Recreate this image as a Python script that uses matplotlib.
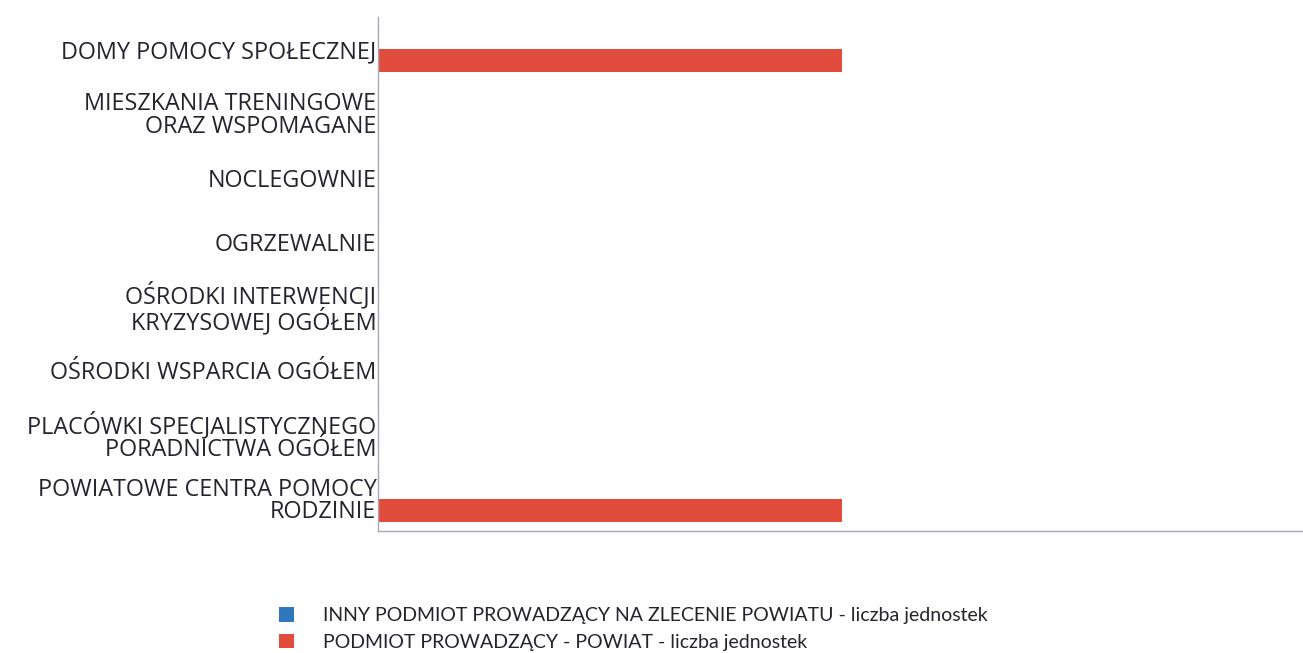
import matplotlib
matplotlib.use("Agg")
import matplotlib.pyplot as plt
import numpy as np
from matplotlib.patches import Patch

categories = [
    "DOMY POMOCY SPOŁECZNEJ",
    "MIESZKANIA TRENINGOWE\nORAZ WSPOMAGANE",
    "NOCLEGOWNIE",
    "OGRZEWALNIE",
    "OŚRODKI INTERWENCJI\nKRYZYSOWEJ OGÓŁEM",
    "OŚRODKI WSPARCIA OGÓŁEM",
    "PLACÓWKI SPECJALISTYCZNEGO\nPORADNICTWA OGÓŁEM",
    "POWIATOWE CENTRA POMOCY\nRODZINIE",
]
series_names = [
    "INNY PODMIOT PROWADZĄCY NA ZLECENIE POWIATU - liczba jednostek",
    "PODMIOT PROWADZĄCY - POWIAT - liczba jednostek",
]
inny = [0, 0, 0, 0, 0, 0, 0, 0]
powiat = [1, 0, 0, 0, 0, 0, 0, 1]

blue = "#2F78BD"
red = "#E24C3D"

plt.rcParams['font.family'] = ['Open Sans', 'DejaVu Sans']

fig = plt.figure(figsize=(13.03, 6.53), dpi=100)
ax = fig.add_axes([0.290, 0.187, 0.712, 0.787])

y = np.arange(len(categories))
h = 0.36
ax.barh(y - h / 2, inny, height=h, color=blue)
ax.barh(y + h / 2, powiat, height=h, color=red)

ax.set_ylim(len(categories) - 0.5, -0.5)
ax.set_xlim(0, 2)
ax.set_yticks(y)
ax.set_yticklabels(categories, fontsize=16.8, color="#24242e", linespacing=0.92)
ax.set_xticks([])
ax.tick_params(axis='y', length=0, pad=1)
for s in ["top", "right"]:
    ax.spines[s].set_visible(False)
for s in ["left", "bottom"]:
    ax.spines[s].set_color("#a8a8b8")
    ax.spines[s].set_linewidth(1.0)

handles = [Patch(facecolor=blue), Patch(facecolor=red)]
fig.legend(handles, series_names, loc="upper left", bbox_to_anchor=(0.207, 0.085),
           frameon=False, prop={'family': ['Lato', 'DejaVu Sans'], 'size': 14},
           handlelength=0.75, handleheight=0.75,
           handletextpad=1.5, labelspacing=0.5, borderpad=0, labelcolor="#24242e")

fig.savefig("out.png", dpi=100)
